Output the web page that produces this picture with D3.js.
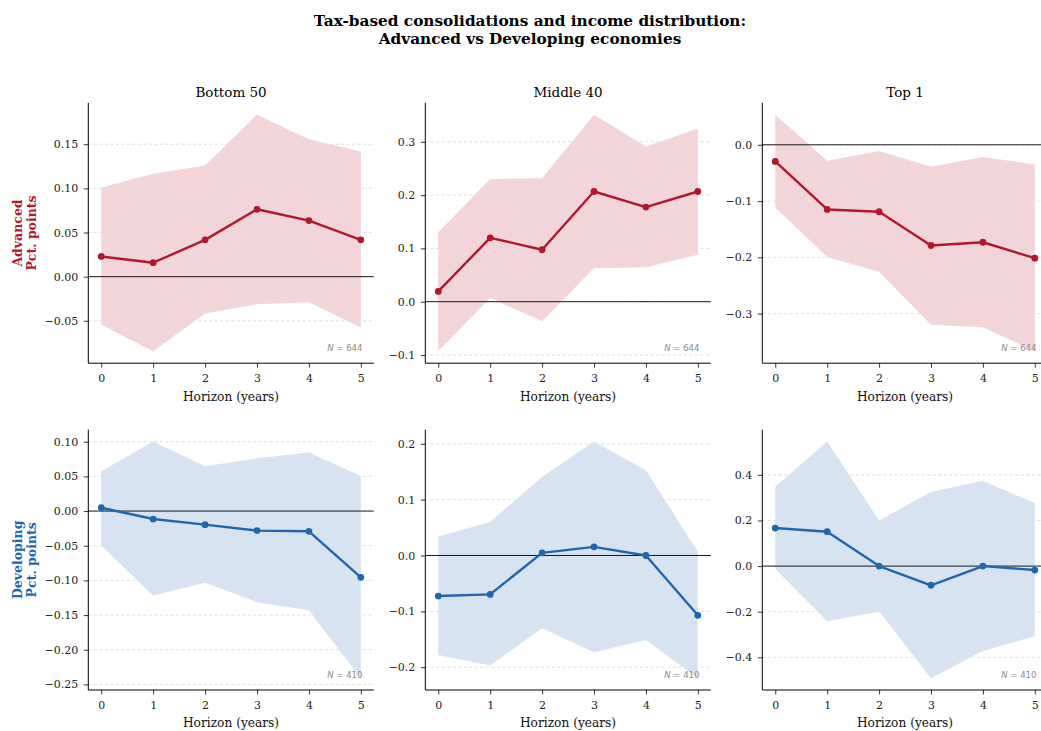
<!DOCTYPE html>
<html>
<head>
<meta charset="utf-8">
<script src="https://cdn.jsdelivr.net/npm/d3@7"></script>
<style>
  html, body { margin: 0; padding: 0; background: #fff; }
  svg { display: block; font-family: "DejaVu Serif", serif; }
</style>
</head>
<body>
<svg id="chart" width="1041" height="731"></svg>
<script>
// Local projection horizons (years after the consolidation)
const horizons = [0, 1, 2, 3, 4, 5];
const groups = ["Bottom 50", "Middle 40", "Top 1"];
const regions = ["Advanced", "Developing"];
const sampleSizes = [644, 410];

// Advanced economies: point estimates and 90% bands
const advBottom50 = [0.0229, 0.0158, 0.0417, 0.0763, 0.0635, 0.0417];
const advBottom50Hi = [0.1011, 0.1165, 0.1260, 0.1835, 0.1556, 0.1417];
const advBottom50Lo = [-0.0545, -0.0846, -0.0417, -0.0312, -0.0290, -0.0575];

const advMiddle40 = [0.0193, 0.1199, 0.0975, 0.2068, 0.1776, 0.2068];
const advMiddle40Hi = [0.1304, 0.2304, 0.2317, 0.3510, 0.2913, 0.3248];
const advMiddle40Lo = [-0.0932, 0.0068, -0.0366, 0.0627, 0.0646, 0.0882];

const advTop1 = [-0.0295, -0.1149, -0.1190, -0.1790, -0.1732, -0.2015];
const advTop1Hi = [0.0536, -0.0283, -0.0112, -0.0389, -0.0218, -0.0348];
const advTop1Lo = [-0.1114, -0.1992, -0.2257, -0.3200, -0.3241, -0.3671];

// Developing economies
const devBottom50 = [0.0048, -0.0115, -0.0196, -0.0282, -0.0292, -0.0956];
const devBottom50Hi = [0.0574, 0.1004, 0.0645, 0.0760, 0.0846, 0.0507];
const devBottom50Lo = [-0.0502, -0.1219, -0.1033, -0.1314, -0.1429, -0.2410];

const devMiddle40 = [-0.0726, -0.0696, 0.0048, 0.0155, 0.0000, -0.1071];
const devMiddle40Hi = [0.0339, 0.0601, 0.1405, 0.2042, 0.1524, 0.0065];
const devMiddle40Lo = [-0.1780, -0.1970, -0.1304, -0.1732, -0.1512, -0.2196];

const devTop1 = [0.1667, 0.1507, 0.0000, -0.0841, 0.0000, -0.0174];
const devTop1Hi = [0.3478, 0.5464, 0.2000, 0.3246, 0.3739, 0.2754];
const devTop1Lo = [-0.0130, -0.2420, -0.1986, -0.4913, -0.3725, -0.3072];

// Y tick values per panel
const ticksAdvBottom50 = [-0.05, 0, 0.05, 0.10, 0.15];
const ticksAdvMiddle40 = [-0.1, 0, 0.1, 0.2, 0.3];
const ticksAdvTop1 = [-0.3, -0.2, -0.1, 0.0];
const ticksDevBottom50 = [-0.25, -0.20, -0.15, -0.10, -0.05, 0, 0.05, 0.10];
const ticksDevMiddle40 = [-0.2, -0.1, 0, 0.1, 0.2];
const ticksDevTop1 = [-0.4, -0.2, 0, 0.2, 0.4];

const panels = [
  { row: 0, col: 0, est: advBottom50, hi: advBottom50Hi, lo: advBottom50Lo, ticks: ticksAdvBottom50, dec: 2 },
  { row: 0, col: 1, est: advMiddle40, hi: advMiddle40Hi, lo: advMiddle40Lo, ticks: ticksAdvMiddle40, dec: 1 },
  { row: 0, col: 2, est: advTop1, hi: advTop1Hi, lo: advTop1Lo, ticks: ticksAdvTop1, dec: 1 },
  { row: 1, col: 0, est: devBottom50, hi: devBottom50Hi, lo: devBottom50Lo, ticks: ticksDevBottom50, dec: 2 },
  { row: 1, col: 1, est: devMiddle40, hi: devMiddle40Hi, lo: devMiddle40Lo, ticks: ticksDevMiddle40, dec: 1 },
  { row: 1, col: 2, est: devTop1, hi: devTop1Hi, lo: devTop1Lo, ticks: ticksDevTop1, dec: 1 }
];

const lineColors = ["#b2182b", "#2166ac"];
const bandColors = ["#f1d5d9", "#d7e3f0"];

const svg = d3.select("#chart");

// Layout of the 2x3 grid
const colLeft = [88.3, 425.3, 762.3];
const rowTop = [102.8, 429.6];
const pw = 285.5, ph = 260.4;

// Figure title
const title = svg.append("text")
  .attr("x", 530).attr("y", 26)
  .attr("text-anchor", "middle")
  .attr("font-size", 15.3).attr("font-weight", "bold").attr("fill", "#000");
title.append("tspan").attr("x", 530).attr("dy", 0).text("Tax-based consolidations and income distribution:");
title.append("tspan").attr("x", 530).attr("dy", 18).text("Advanced vs Developing economies");

const minus = s => s.replace("-", "\u2212");

panels.forEach(p => {
  const x0 = colLeft[p.col], y0 = rowTop[p.row];
  const g = svg.append("g").attr("transform", `translate(${x0},${y0})`);

  // Axis limits with 5% padding around the bands
  const xs = d3.extent(horizons);
  const xpad = (xs[1] - xs[0]) * 0.05;
  const x = d3.scaleLinear().domain([xs[0] - xpad, xs[1] + xpad]).range([0, pw]);
  const yMin = d3.min(p.lo.concat(p.est)), yMax = d3.max(p.hi.concat(p.est));
  const ypad = (yMax - yMin) * 0.05;
  const y = d3.scaleLinear().domain([yMin - ypad, yMax + ypad]).range([ph, 0]);

  // Horizontal grid
  g.append("g").selectAll("line").data(p.ticks).join("line")
    .attr("x1", 0).attr("x2", pw)
    .attr("y1", d => y(d)).attr("y2", d => y(d))
    .attr("stroke", "#c8c8c8").attr("stroke-width", 0.6)
    .attr("stroke-dasharray", "3,2.5");

  // Confidence band
  const area = d3.area()
    .x((d, i) => x(horizons[i]))
    .y0((d, i) => y(p.lo[i]))
    .y1((d, i) => y(p.hi[i]));
  g.append("path").datum(horizons).attr("d", area).attr("fill", bandColors[p.row]);

  // Zero reference line
  g.append("line")
    .attr("x1", 0).attr("x2", pw)
    .attr("y1", y(0)).attr("y2", y(0))
    .attr("stroke", "#000").attr("stroke-width", 0.9);

  // Point estimates
  const line = d3.line().x((d, i) => x(horizons[i])).y(d => y(d));
  g.append("path").datum(p.est).attr("d", line)
    .attr("fill", "none").attr("stroke", lineColors[p.row])
    .attr("stroke-width", 2.4).attr("stroke-linejoin", "round");
  g.append("g").selectAll("circle").data(p.est).join("circle")
    .attr("cx", (d, i) => x(horizons[i])).attr("cy", d => y(d))
    .attr("r", 3.4).attr("fill", lineColors[p.row]);

  // Axes
  const fmt = d3.format(`.${p.dec}f`);
  const yAxis = d3.axisLeft(y).tickValues(p.ticks).tickSize(4.5).tickPadding(5.5)
    .tickFormat(d => minus(fmt(d)));
  const xAxis = d3.axisBottom(x).tickValues(horizons).tickSize(4.5).tickPadding(7)
    .tickFormat(d3.format("d"));

  const ya = g.append("g").call(yAxis);
  const xa = g.append("g").attr("transform", `translate(0,${ph})`).call(xAxis);
  [ya, xa].forEach(a => {
    a.select(".domain").attr("stroke", "#000").attr("stroke-width", 1);
    a.selectAll(".tick line").attr("stroke", "#000").attr("stroke-width", 0.8);
    a.selectAll(".tick text").attr("font-family", "DejaVu Serif").attr("font-size", 11).attr("fill", "#222");
  });
  // Spines span only the axes area
  xa.select(".domain").attr("d", `M0,0H${pw}`);
  ya.select(".domain").attr("d", `M0,0V${ph}`);

  g.append("text")
    .attr("x", pw / 2).attr("y", ph + 37.5)
    .attr("text-anchor", "middle")
    .attr("font-size", 12.2).attr("fill", "#111")
    .text("Horizon (years)");

  // Column titles on top row
  if (p.row === 0) {
    g.append("text")
      .attr("x", pw / 2).attr("y", -6)
      .attr("text-anchor", "middle")
      .attr("font-size", 13.5).attr("fill", "#000")
      .text(groups[p.col]);
  }

  // Sample size note
  const n = g.append("text")
    .attr("x", pw * 0.96).attr("y", ph - 12)
    .attr("text-anchor", "end")
    .attr("font-family", "DejaVu Sans").attr("font-size", 8.5).attr("fill", "#8a8a8a");
  n.append("tspan").attr("font-style", "italic").text("N");
  n.append("tspan").text(" = " + sampleSizes[p.row]);

  // Row labels on the first column
  if (p.col === 0) {
    const lab = g.append("text")
      .attr("transform", `translate(-66,${ph / 2}) rotate(-90)`)
      .attr("text-anchor", "middle")
      .attr("font-size", 12.5).attr("font-weight", "bold")
      .attr("fill", lineColors[p.row]);
    lab.append("tspan").attr("x", 0).attr("dy", 0).text(regions[p.row]);
    lab.append("tspan").attr("x", 0).attr("dy", 13.5).text("Pct. points");
  }
});
</script>
</body>
</html>
